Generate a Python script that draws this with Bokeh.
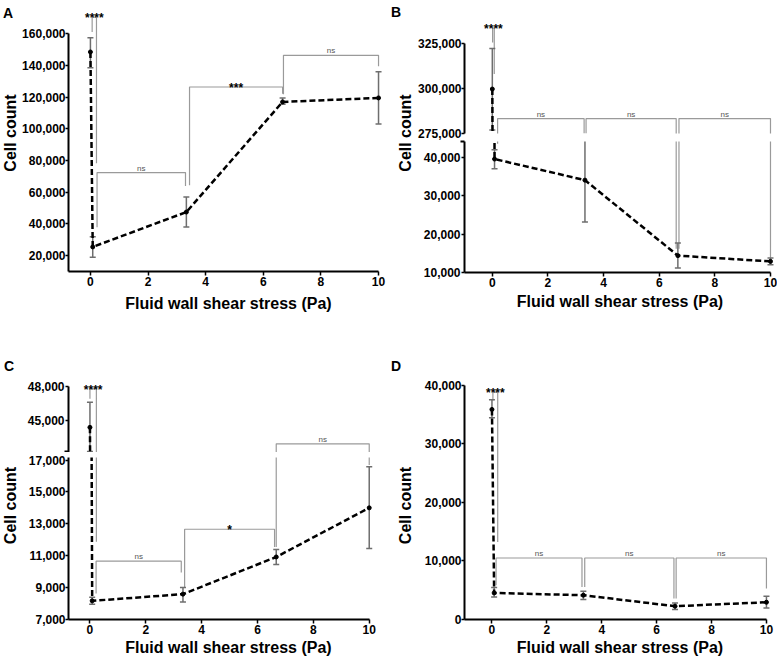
import math
from bokeh.plotting import figure
from bokeh.layouts import column, row
from bokeh.models import Range1d, FixedTicker, NumeralTickFormatter, ColumnDataSource
from bokeh.embed import file_html
from bokeh.resources import INLINE
from bokeh.core.properties import value

FONT = "Liberation Sans"

# ---------------- data ----------------
shear = [0, 0.08, 3.33, 6.67, 10]
x_ticks = [0, 2, 4, 6, 8, 10]
x_title = "Fluid wall shear stress (Pa)"
y_title = "Cell count"
panel_letters = ["A", "B", "C", "D"]

# Panel A
a_mean = [148500, 25500, 47500, 117000, 119500]
a_lo = [138500, 19000, 38000, 115500, 103000]
a_hi = [157500, 32000, 57000, 119500, 136000]
a_ticks = [20000, 40000, 60000, 80000, 100000, 120000, 140000, 160000]
a_br_x0 = [0.06, 0.23, 3.44, 6.70]
a_br_x1 = [0.21, 3.30, 6.67, 10.0]
a_br_top = [170400, 72400, 126400, 146400]
a_br_l = [161100, 37900, 64400, 121800]
a_br_r = [78300, 63900, 122200, 139500]
a_br_txt = ["****", "ns", "***", "ns"]

# Panel B (broken axis)
b_mean = [299700, 39600, 34100, 14400, 12900]
b_lo = [276900, 37100, 23200, 11150, 12000]
b_hi = [322200, 42000, 45000, 17700, 13800]
b_ticks_up = [275000, 300000, 325000]
b_ticks_low = [10000, 20000, 30000, 40000]
b_br_x0 = [0.01, 0.19, 3.37, 6.71]
b_br_x1 = [0.07, 3.30, 6.61, 10.0]
b_br_top = [333600, 283300, 283300, 283300]
b_br_l = [325600, 43600, 275000, 16200]
b_br_r = [308000, 275000, 16200, 13840]
b_br_txt = ["****", "ns", "ns", "ns"]

# Panel C (broken axis)
c_mean = [44400, 8170, 8590, 10920, 14000]
c_lo = [42300, 7950, 8100, 10450, 11450]
c_hi = [46600, 8400, 9000, 11390, 16570]
c_ticks_up = [45000, 48000]
c_ticks_low = [7000, 9000, 11000, 13000, 15000, 17000]
c_br_x0 = [0.0, 0.22, 3.39, 6.67]
c_br_x1 = [0.23, 3.27, 6.61, 10.0]
c_br_top = [47770, 10655, 12660, 42960]
c_br_l = [46900, 8630, 8980, 11550]
c_br_r = [11870, 9950, 11550, 16690]
c_br_txt = ["****", "ns", "*", "ns"]

# Panel D
d_mean = [35900, 4540, 4150, 2270, 2950]
d_lo = [34500, 3860, 3410, 1700, 1980]
d_hi = [37550, 5460, 4830, 2830, 3970]
d_ticks = [0, 10000, 20000, 30000, 40000]
d_br_x0 = [0.035, 0.15, 3.38, 6.71]
d_br_x1 = [0.21, 3.28, 6.63, 10.0]
d_br_top = [38860, 10510, 10510, 10510]
d_br_l = [37440, 5850, 5560, 3580]
d_br_r = [13250, 5560, 3580, 5290]
d_br_txt = ["****", "ns", "ns", "ns"]

ERR = "#6e6e6e"
BRK = "#9a9a9a"
NS = "#555555"
H = 658


# ---------------- helpers ----------------
def base_fig(w, h, xr, yr, mb, x_axis=True, y_axis=True):
    p = figure(width=w, height=h, x_range=Range1d(*xr), y_range=Range1d(*yr),
               output_backend="svg", toolbar_location=None,
               x_axis_location="below" if x_axis else None,
               y_axis_location="left" if y_axis else None,
               min_border_left=mb[0], min_border_right=mb[1],
               min_border_top=mb[2], min_border_bottom=mb[3])
    p.outline_line_color = None
    p.background_fill_color = "white"
    p.border_fill_color = "white"
    for g in p.grid:
        g.visible = False
    return p


def common_axis(ax):
    ax.axis_line_width = 2
    ax.axis_line_color = "black"
    ax.major_tick_line_width = 1.5
    ax.major_tick_line_color = "black"
    ax.major_tick_in = 0
    ax.minor_tick_in = 0
    ax.major_label_text_font = FONT
    ax.major_label_text_font_size = "12px"
    ax.major_label_text_font_style = "bold"
    ax.major_label_text_color = "black"


def style_x(p, bounds, standoff):
    ax = p.xaxis[0]
    ax.ticker = FixedTicker(ticks=x_ticks)
    ax.bounds = bounds
    common_axis(ax)
    ax.major_tick_out = 4
    ax.minor_tick_out = 0
    ax.major_label_standoff = 1
    ax.axis_label = x_title
    ax.axis_label_standoff = standoff
    ax.axis_label_text_font = FONT
    ax.axis_label_text_font_size = "16px"
    ax.axis_label_text_font_style = "bold"
    ax.axis_label_text_color = "black"


def style_y(p, ticks, bounds, minor=None):
    ax = p.yaxis[0]
    ax.ticker = FixedTicker(ticks=ticks, minor_ticks=minor or [])
    ax.formatter = NumeralTickFormatter(format="0,0")
    ax.bounds = bounds
    common_axis(ax)
    ax.major_tick_out = 3
    ax.major_label_standoff = 0
    ax.minor_tick_out = 4
    ax.minor_tick_line_width = 2
    ax.minor_tick_line_color = "black"


def draw_series(p, mean, lo, hi):
    p.segment(x0=shear, y0=lo, x1=shear, y1=hi, line_color=ERR, line_width=1.5)
    p.scatter(x=shear + shear, y=lo + hi, marker="dash", size=6,
              line_color=ERR, line_width=1.5)
    p.line(shear, mean, line_color="black", line_width=2.5, line_dash="6 3")
    p.scatter(shear, mean, size=4, color="black")


def draw_brackets(p, x0s, x1s, tops, ls, rs, txts):
    xs = [[a, a, b, b] for a, b in zip(x0s, x1s)]
    ys = [[l, t, t, r] for t, l, r in zip(tops, ls, rs)]
    p.multi_line(xs, ys, line_color=BRK, line_width=1.2)
    yr = p.y_range
    star = dict(x=[], y=[], t=[])
    ns = dict(x=[], y=[], t=[])
    for a, b, t, s in zip(x0s, x1s, tops, txts):
        if not (yr.start <= t <= yr.end):
            continue
        d = ns if s == "ns" else star
        d["x"].append((a + b) / 2)
        d["y"].append(t)
        d["t"].append(s)
    if star["x"]:
        p.text(x="x", y="y", text="t", source=ColumnDataSource(star),
               text_font=value(FONT), text_font_size="12px", text_font_style="bold",
               text_color="black", text_align="center", text_baseline="alphabetic",
               y_offset=1)
    if ns["x"]:
        p.text(x="x", y="y", text="t", source=ColumnDataSource(ns),
               text_font=value(FONT), text_font_size="8px",
               text_color=NS, text_align="center", text_baseline="alphabetic",
               y_offset=-4.4)


def gutter(w, letters, letter_x, letter_y, title_x, title_y):
    g = base_fig(w, H, (0, w), (0, H), (0, 0, 0, 0), x_axis=False, y_axis=False)
    g.text(x=letter_x, y=[H - v for v in letter_y], text=letters,
           text_font=value(FONT), text_font_size="14px", text_font_style="bold",
           text_color="black", text_align="left", text_baseline="alphabetic")
    g.text(x=title_x, y=[H - v for v in title_y], text=[y_title] * len(title_x),
           angle=math.pi / 2, text_font=value(FONT), text_font_size="16px",
           text_font_style="bold", text_color="black", text_align="center",
           text_baseline="middle")
    return g


# ---------------- gutters (panel letters + y titles) ----------------
gl = gutter(19, [panel_letters[0], panel_letters[2]], [2.5, 3.5], [12, 365],
            [9.5, 9.5], [132.5, 505])
gr = gutter(24, [panel_letters[1], panel_letters[3]], [0.5, 0.5], [11, 365],
            [14.5, 14.5], [132.5, 505])

# ---------------- panel A ----------------
pa = base_fig(371, 330, (-0.761, 10.346), (10000, 180970), (48, 2, 0, 59))
style_x(pa, (-0.761, 10), 6)
style_y(pa, a_ticks, (10000, 160000))
draw_brackets(pa, a_br_x0, a_br_x1, a_br_top, a_br_l, a_br_r, a_br_txt)
draw_series(pa, a_mean, a_lo, a_hi)

# ---------------- panel B ----------------
pbu = base_fig(363, 140, (-1, 10.18), (275000, 348900), (50, 2, 0, 7), x_axis=False)
style_y(pbu, b_ticks_up, (275000, 325000))
draw_brackets(pbu, b_br_x0, b_br_x1, b_br_top, b_br_l, b_br_r, b_br_txt)
draw_series(pbu, b_mean, b_lo, b_hi)

pbl = base_fig(363, 190, (-1, 10.18), (10000, 44178), (50, 2, 1, 58))
style_x(pbl, (-1, 10), 3)
style_y(pbl, b_ticks_low, (10000, 44178), minor=[44100])
draw_brackets(pbl, b_br_x0, b_br_x1, b_br_top, b_br_l, b_br_r, b_br_txt)
draw_series(pbl, b_mean, b_lo, b_hi)

# ---------------- panel C ----------------
pcu = base_fig(371, 122, (-0.768, 10.69), (42203, 52866), (47, 0, 0, 0), x_axis=False)
style_y(pcu, c_ticks_up, (42203, 48000), minor=[42260])
draw_brackets(pcu, c_br_x0, c_br_x1, c_br_top, c_br_l, c_br_r, c_br_txt)
draw_series(pcu, c_mean, c_lo, c_hi)

pcl = base_fig(371, 206, (-0.768, 10.69), (7000, 17157), (47, 0, 5, 39))
style_x(pcl, (-0.768, 10), 2)
style_y(pcl, c_ticks_low, (7000, 17157))
draw_brackets(pcl, c_br_x0, c_br_x1, c_br_top, c_br_l, c_br_r, c_br_txt)
draw_series(pcl, c_mean, c_lo, c_hi)

# ---------------- panel D ----------------
pd_ = base_fig(363, 328, (-1, 10.33), (0, 49390), (43, 0, 0, 39))
style_x(pd_, (-1, 10), 2)
style_y(pd_, d_ticks, (0, 40000))
draw_brackets(pd_, d_br_x0, d_br_x1, d_br_top, d_br_l, d_br_r, d_br_txt)
draw_series(pd_, d_mean, d_lo, d_hi)

left = row(gl, column(pa, pcu, pcl, spacing=0), spacing=0)
right = row(gr, column(pbu, pbl, pd_, spacing=0), spacing=0)
layout = row(left, right, spacing=0)

open("out.html", "w").write(file_html(layout, INLINE))
